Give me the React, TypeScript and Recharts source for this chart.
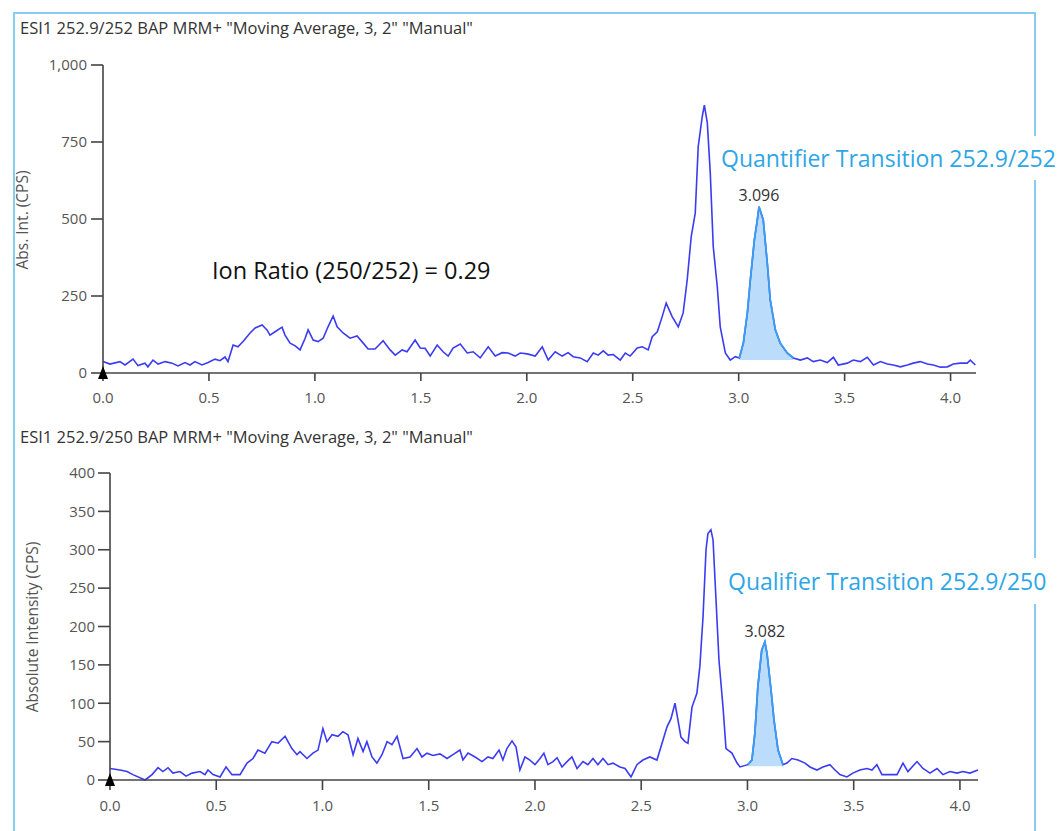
import React from 'react';
import { Area, ComposedChart, Line, ReferenceDot, XAxis, YAxis } from 'recharts';

// Quantifier trace (252.9/252), retention time in min / intensity in cps
const topTimes = [
  0, 0.033, 0.08, 0.104, 0.142, 0.165, 0.198, 0.212, 0.236, 0.26,
  0.293, 0.326, 0.354, 0.387, 0.411, 0.434, 0.467, 0.496, 0.529, 0.552,
  0.576, 0.59, 0.614, 0.637, 0.661, 0.694, 0.718, 0.751, 0.774, 0.788,
  0.812, 0.845, 0.859, 0.883, 0.907, 0.93, 0.954, 0.968, 0.992, 1.015,
  1.039, 1.062, 1.086, 1.105, 1.133, 1.166, 1.199, 1.228, 1.251, 1.284,
  1.322, 1.355, 1.379, 1.412, 1.435, 1.473, 1.497, 1.52, 1.544, 1.577,
  1.605, 1.629, 1.652, 1.686, 1.719, 1.747, 1.78, 1.818, 1.851, 1.884,
  1.912, 1.945, 1.969, 2.002, 2.04, 2.073, 2.101, 2.134, 2.167, 2.195,
  2.219, 2.252, 2.285, 2.314, 2.337, 2.361, 2.384, 2.408, 2.441, 2.465,
  2.488, 2.521, 2.545, 2.573, 2.592, 2.616, 2.639, 2.658, 2.686, 2.715,
  2.738, 2.757, 2.776, 2.795, 2.809, 2.828, 2.838, 2.852, 2.866, 2.88,
  2.899, 2.913, 2.937, 2.96, 2.984, 3.003, 3.022, 3.041, 3.055, 3.074,
  3.088, 3.096, 3.116, 3.135, 3.149, 3.173, 3.196, 3.229, 3.258, 3.291,
  3.324, 3.352, 3.385, 3.418, 3.447, 3.47, 3.513, 3.541, 3.574, 3.607,
  3.636, 3.669, 3.702, 3.73, 3.763, 3.796, 3.824, 3.857, 3.891, 3.919,
  3.952, 3.985, 4.013, 4.046, 4.079, 4.093, 4.117,
];
const topValues = [
  37, 29, 37, 26, 45, 24, 32, 20, 42, 29,
  37, 32, 23, 34, 26, 37, 26, 34, 45, 40,
  52, 37, 91, 85, 102, 130, 146, 156, 140, 123,
  134, 149, 123, 97, 88, 75, 113, 140, 107, 102,
  113, 150, 185, 150, 130, 113, 120, 97, 78, 78,
  105, 75, 58, 75, 69, 107, 81, 80, 55, 91,
  69, 55, 81, 94, 65, 69, 49, 85, 55, 66,
  65, 55, 65, 62, 55, 85, 42, 69, 55, 66,
  53, 49, 37, 65, 58, 72, 58, 60, 42, 65,
  55, 81, 85, 75, 118, 134, 183, 227, 183, 150,
  195, 302, 443, 519, 735, 832, 870, 812, 649, 410,
  280, 150, 65, 42, 53, 49, 97, 195, 302, 432,
  497, 540, 497, 357, 237, 140, 97, 65, 49, 42,
  49, 37, 42, 34, 51, 26, 32, 42, 37, 51,
  26, 37, 29, 26, 20, 26, 32, 37, 29, 26,
  19, 20, 29, 32, 32, 42, 26,
];
const topXTicks = [0, 0.5, 1, 1.5, 2, 2.5, 3, 3.5, 4];
const topYTicks = [0, 250, 500, 750, 1000];
const topPeakStart = 3.003;
const topPeakEnd = 3.258;
const topPeakBase = 42;
const topApexTime = 3.096;
const topApexValue = 540;

// Qualifier trace (252.9/250)
const bottomTimes = [
  0, 0.047, 0.08, 0.108, 0.165, 0.198, 0.226, 0.249, 0.273, 0.296,
  0.329, 0.358, 0.386, 0.424, 0.447, 0.461, 0.485, 0.518, 0.546, 0.574,
  0.612, 0.645, 0.673, 0.696, 0.729, 0.762, 0.791, 0.824, 0.856, 0.88,
  0.894, 0.927, 0.955, 0.979, 1.002, 1.021, 1.045, 1.073, 1.096, 1.12,
  1.144, 1.167, 1.191, 1.209, 1.233, 1.256, 1.28, 1.304, 1.327, 1.351,
  1.379, 1.412, 1.445, 1.468, 1.492, 1.52, 1.553, 1.586, 1.614, 1.647,
  1.661, 1.685, 1.718, 1.751, 1.779, 1.802, 1.831, 1.849, 1.868, 1.892,
  1.911, 1.929, 1.953, 1.976, 2.0, 2.024, 2.042, 2.061, 2.085, 2.104,
  2.127, 2.151, 2.174, 2.198, 2.226, 2.249, 2.273, 2.296, 2.32, 2.344,
  2.367, 2.4, 2.424, 2.452, 2.48, 2.508, 2.541, 2.574, 2.598, 2.621,
  2.64, 2.659, 2.673, 2.687, 2.706, 2.72, 2.739, 2.762, 2.776, 2.791,
  2.805, 2.814, 2.828, 2.838, 2.852, 2.866, 2.885, 2.899, 2.927, 2.951,
  2.965, 3.002, 3.021, 3.035, 3.049, 3.067, 3.082, 3.092, 3.111, 3.125,
  3.144, 3.167, 3.186, 3.209, 3.238, 3.271, 3.294, 3.327, 3.355, 3.388,
  3.412, 3.435, 3.468, 3.496, 3.529, 3.562, 3.586, 3.609, 3.633, 3.671,
  3.704, 3.732, 3.755, 3.798, 3.826, 3.859, 3.892, 3.92, 3.953, 3.986,
  4.014, 4.047, 4.085,
];
const bottomValues = [
  15, 13, 11, 7, 0, 7, 16, 11, 16, 9,
  11, 5, 9, 11, 7, 13, 7, 4, 17, 7,
  7, 22, 28, 39, 35, 50, 48, 57, 41, 33,
  37, 28, 35, 39, 67, 50, 59, 57, 63, 59,
  33, 54, 37, 50, 30, 22, 33, 50, 46, 57,
  28, 30, 41, 30, 35, 32, 34, 28, 33, 39,
  26, 35, 30, 24, 30, 28, 39, 26, 41, 51,
  43, 13, 30, 26, 20, 28, 35, 20, 24, 29,
  17, 24, 30, 15, 24, 20, 28, 20, 28, 20,
  22, 17, 15, 4, 20, 26, 30, 26, 48, 69,
  80, 100, 78, 56, 50, 48, 95, 113, 148, 213,
  300, 321, 326, 313, 235, 156, 95, 41, 35, 22,
  17, 20, 26, 61, 122, 169, 180, 165, 117, 78,
  39, 20, 22, 28, 26, 22, 17, 13, 17, 20,
  13, 7, 4, 9, 13, 15, 13, 20, 7, 7,
  7, 22, 11, 24, 15, 9, 15, 7, 11, 9,
  11, 9, 13,
];
const bottomXTicks = [0, 0.5, 1, 1.5, 2, 2.5, 3, 3.5, 4];
const bottomYTicks = [0, 50, 100, 150, 200, 250, 300, 350, 400];
const bottomPeakStart = 3.002;
const bottomPeakEnd = 3.167;
const bottomPeakBase = 18;
const bottomApexTime = 3.082;
const bottomApexValue = 180;

const FONT = '"Open Sans", "Noto Sans", sans-serif';
const TRACE = '#3b3bf2';
const PEAK_LINE = '#3a9ef0';
const PEAK_FILL = '#bcdcfb';
const AXIS = '#444';
const TICK_TEXT = '#555';
const FRAME = '#86cdf0';

const buildRows = (times: number[], values: number[], start: number, end: number, base: number) =>
  times.map((t, i) => {
    const inPeak = t >= start && t <= end;
    return {
      t,
      v: values[i],
      peak: inPeak ? [base, values[i]] : null,
      peakTop: inPeak ? values[i] : null,
    };
  });

const OriginMarker = (props: any) => {
  const { cx, cy } = props;
  return <path d={`M${cx},${cy - 7} L${cx + 5},${cy + 6} L${cx - 5},${cy + 6} Z`} fill="#000" />;
};

type ChromProps = {
  rows: any[];
  top: number;
  height: number;
  margin: { top: number; right: number; bottom: number; left: number };
  yAxisWidth: number;
  xAxisHeight: number;
  xMax: number;
  yMax: number;
  xTicks: number[];
  yTicks: number[];
  xTickSize: number;
  xTickMargin: number;
  yTickSize: number;
  yTickMargin: number;
  apexTime: number;
  apexValue: number;
  apexOffset: number;
};

const Chromatogram: React.FC<ChromProps> = (p) => (
  <div style={{ position: 'absolute', left: 0, top: p.top }}>
    <ComposedChart width={1061} height={p.height} data={p.rows} margin={p.margin}>
      <XAxis
        dataKey="t"
        type="number"
        domain={[0, p.xMax]}
        ticks={p.xTicks}
        tickFormatter={(v: number) => v.toFixed(1)}
        height={p.xAxisHeight}
        tickSize={p.xTickSize}
        tickMargin={p.xTickMargin}
        axisLine={{ stroke: AXIS, strokeWidth: 1.6 }}
        tickLine={{ stroke: AXIS, strokeWidth: 1.6 }}
        tick={{ fill: TICK_TEXT, fontSize: 15, fontFamily: FONT }}
      />
      <YAxis
        type="number"
        domain={[0, p.yMax]}
        ticks={p.yTicks}
        tickFormatter={(v: number) => v.toLocaleString('en-US')}
        width={p.yAxisWidth}
        tickSize={p.yTickSize}
        tickMargin={p.yTickMargin}
        axisLine={{ stroke: AXIS, strokeWidth: 1.6 }}
        tickLine={{ stroke: AXIS, strokeWidth: 1.6 }}
        tick={{ fill: TICK_TEXT, fontSize: 15, fontFamily: FONT }}
      />
      <Area
        dataKey="peak"
        type="linear"
        stroke="none"
        fill={PEAK_FILL}
        fillOpacity={1}
        isAnimationActive={false}
      />
      <Line
        dataKey="v"
        type="linear"
        stroke={TRACE}
        strokeWidth={1.6}
        dot={false}
        activeDot={false}
        isAnimationActive={false}
      />
      <Line
        dataKey="peakTop"
        type="linear"
        stroke={PEAK_LINE}
        strokeWidth={1.8}
        dot={false}
        activeDot={false}
        isAnimationActive={false}
      />
      <ReferenceDot
        x={p.apexTime}
        y={p.apexValue}
        r={0}
        stroke="none"
        fill="none"
        label={{
          value: p.apexTime.toFixed(3),
          position: 'top',
          offset: p.apexOffset,
          fill: '#333',
          fontSize: 16,
          fontFamily: FONT,
        }}
      />
      <ReferenceDot x={0} y={0} shape={OriginMarker} ifOverflow="visible" />
    </ComposedChart>
  </div>
);

const textBase: React.CSSProperties = {
  position: 'absolute',
  fontFamily: FONT,
  whiteSpace: 'nowrap',
};

const App: React.FC = () => {
  const topRows = buildRows(topTimes, topValues, topPeakStart, topPeakEnd, topPeakBase);
  const bottomRows = buildRows(bottomTimes, bottomValues, bottomPeakStart, bottomPeakEnd, bottomPeakBase);

  return (
    <div
      style={{
        position: 'fixed',
        left: 0,
        top: 0,
        width: 1061,
        height: 831,
        overflow: 'hidden',
        background: '#fff',
      }}
    >
      {/* light blue panel frame */}
      <div
        style={{
          position: 'absolute',
          left: 13,
          top: 12,
          width: 1019,
          height: 900,
          borderLeft: `2px solid ${FRAME}`,
          borderTop: `2px solid ${FRAME}`,
          borderRight: `2px solid ${FRAME}`,
        }}
      />

      <Chromatogram
        rows={topRows}
        top={0}
        height={410}
        margin={{ top: 65, right: 85, bottom: 7, left: 0 }}
        yAxisWidth={103}
        xAxisHeight={30}
        xMax={4.12}
        yMax={1000}
        xTicks={topXTicks}
        yTicks={topYTicks}
        xTickSize={8}
        xTickMargin={11}
        yTickSize={12}
        yTickMargin={4}
        apexTime={topApexTime}
        apexValue={topApexValue}
        apexOffset={6}
      />
      <Chromatogram
        rows={bottomRows}
        top={420}
        height={411}
        margin={{ top: 53, right: 83, bottom: 11, left: 0 }}
        yAxisWidth={110}
        xAxisHeight={40}
        xMax={4.085}
        yMax={400}
        xTicks={bottomXTicks}
        yTicks={bottomYTicks}
        xTickSize={10}
        xTickMargin={10}
        yTickSize={12}
        yTickMargin={3}
        apexTime={bottomApexTime}
        apexValue={bottomApexValue}
        apexOffset={5}
      />

      {/* panel titles */}
      <div style={{ ...textBase, left: 20, top: 18, fontSize: 16.5, lineHeight: '20px', color: '#333' }}>
        ESI1 252.9/252 BAP MRM+ "Moving Average, 3, 2" "Manual"
      </div>
      <div style={{ ...textBase, left: 20, top: 427, fontSize: 16.5, lineHeight: '20px', color: '#333' }}>
        ESI1 252.9/250 BAP MRM+ "Moving Average, 3, 2" "Manual"
      </div>

      {/* axis titles */}
      <div
        style={{
          ...textBase,
          left: 22,
          top: 220,
          fontSize: 15.5,
          color: '#555',
          transform: 'translate(-50%, -50%) rotate(-90deg)',
        }}
      >
        Abs. Int. (CPS)
      </div>
      <div
        style={{
          ...textBase,
          left: 32,
          top: 627,
          fontSize: 15.5,
          color: '#555',
          transform: 'translate(-50%, -50%) rotate(-90deg)',
        }}
      >
        Absolute Intensity (CPS)
      </div>

      {/* annotations */}
      <div style={{ ...textBase, left: 212, top: 254, fontSize: 23.5, lineHeight: '32px', color: '#111' }}>
        Ion Ratio (250/252) = 0.29
      </div>
      <div
        style={{
          ...textBase,
          left: 717,
          top: 136,
          height: 44,
          lineHeight: '44px',
          padding: '0 4px',
          background: '#fff',
          fontSize: 23,
          color: '#2ea6e6',
        }}
      >
        Quantifier Transition 252.9/252
      </div>
      <div
        style={{
          ...textBase,
          left: 724,
          top: 558,
          height: 46,
          lineHeight: '46px',
          padding: '0 4px',
          background: '#fff',
          fontSize: 23,
          color: '#2ea6e6',
        }}
      >
        Qualifier Transition 252.9/250
      </div>
    </div>
  );
};

export default App;
